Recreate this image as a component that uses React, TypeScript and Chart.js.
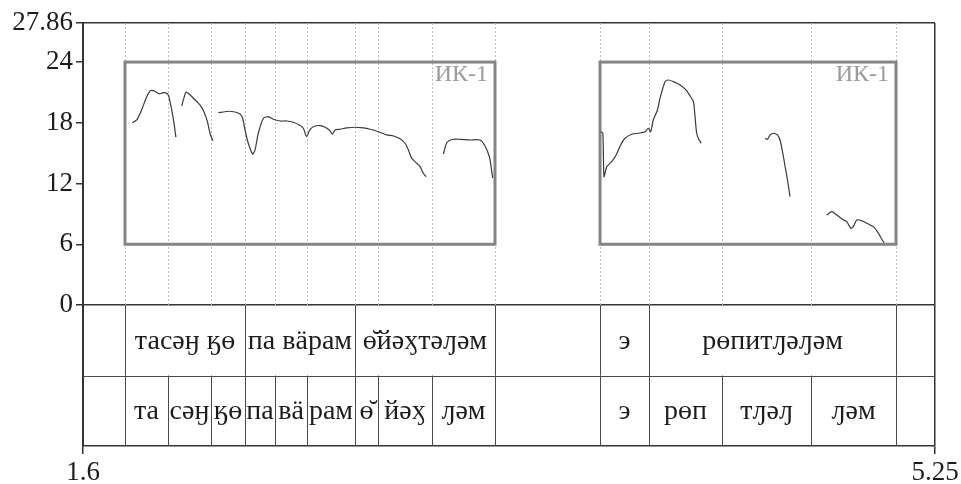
import { useEffect, useRef } from 'react';
import { Chart, registerables } from 'chart.js';

Chart.register(...registerables);

// Axis extents: the lower part of the value axis (below 0) holds the transcription table.
const X_MIN = 1.6;
const X_MAX = 5.25;
const Y_MIN = -13.93;
const Y_MAX = 27.86;
const ROW_SPLIT = -6.965;

const yTickValues = [0, 6, 12, 18, 24, 27.86];
const xTickValues = [1.6, 5.25];

// Pitch frames (ИК-1) drawn around each utterance
const frameStarts = [1.78, 3.815];
const frameEnds = [3.365, 5.083];
const frameLow = 6;
const frameHigh = 24;
const frameLabel = 'ИК-1';

// Word tier
const wordLabels = ['тасәӈ ӄө', 'па вӓрам', 'ө̆йәӽтәԓәм', 'э', 'рөпитԓәԓәм'];
const wordStarts = [1.78, 2.294, 2.765, 3.815, 4.025];
const wordEnds = [2.294, 2.765, 3.365, 4.025, 5.083];

// Syllable tier
const syllableLabels = ['та', 'сәӈ', 'ӄө', 'па', 'вӓ', 'рам', 'ө̆', 'йәӽ', 'ԓәм', 'э', 'рөп', 'тԓәԓ', 'ԓәм'];
const syllableStarts = [1.78, 1.964, 2.148, 2.294, 2.423, 2.56, 2.765, 2.864, 3.095, 3.815, 4.025, 4.338, 4.719];
const syllableEnds = [1.964, 2.148, 2.294, 2.423, 2.56, 2.765, 2.864, 3.095, 3.365, 4.025, 4.338, 4.719, 5.083];

// F0 contour pieces: [time, semitone value]
const contourTasang: [number, number][] = [
  [1.811, 18.01], [1.83, 18.28], [1.851, 19.27], [1.873, 20.58], [1.89, 21.18], [1.908, 21.12],
  [1.927, 20.85], [1.944, 20.98], [1.959, 20.92], [1.968, 20.58], [1.98, 19.27], [1.99, 17.95], [1.998, 16.57],
];
const contourKo: [number, number][] = [
  [2.023, 19.66], [2.03, 20.26], [2.041, 21.02], [2.051, 20.92], [2.073, 20.43], [2.101, 19.76],
  [2.118, 19.1], [2.133, 18.11], [2.144, 16.97], [2.156, 16.24],
];
const contourMiddle: [number, number][] = [
  [2.18, 19.0], [2.201, 19.07], [2.223, 19.14], [2.251, 19.07], [2.273, 18.87], [2.284, 18.45],
  [2.294, 17.29], [2.308, 15.98], [2.327, 14.92], [2.337, 15.32], [2.351, 16.97], [2.373, 18.45],
  [2.394, 18.61], [2.415, 18.35], [2.444, 18.18], [2.473, 18.18], [2.501, 18.05], [2.53, 17.74],
  [2.544, 17.46], [2.558, 16.65], [2.573, 17.36], [2.594, 17.69], [2.615, 17.72], [2.637, 17.56],
  [2.658, 17.22], [2.668, 16.87], [2.68, 17.29], [2.701, 17.36], [2.73, 17.49], [2.765, 17.56],
  [2.801, 17.49], [2.83, 17.36], [2.865, 17.12], [2.901, 16.8], [2.93, 16.7], [2.958, 16.43],
  [2.98, 15.98], [2.994, 15.32], [3.008, 14.5], [3.03, 14.0], [3.044, 13.67], [3.058, 13.01], [3.07, 12.68],
];
const contourLam: [number, number][] = [
  [3.144, 14.92], [3.158, 16.01], [3.18, 16.35], [3.215, 16.37], [3.258, 16.3], [3.301, 16.3],
  [3.322, 15.71], [3.341, 14.65], [3.349, 13.54], [3.355, 12.55],
];
const contourRop: [number, number][] = [
  [3.818, 17.12], [3.827, 17.0], [3.832, 12.68], [3.844, 13.67], [3.865, 14.16], [3.884, 14.82],
  [3.901, 15.71], [3.922, 16.47], [3.951, 16.87], [3.979, 16.97], [4.008, 17.12], [4.022, 17.46],
  [4.032, 17.12], [4.043, 18.28], [4.061, 19.27], [4.072, 20.43], [4.094, 22.07], [4.108, 22.23],
  [4.129, 22.07], [4.158, 21.74], [4.183, 21.25], [4.201, 20.65], [4.215, 20.09], [4.222, 18.61],
  [4.229, 16.97], [4.238, 16.37], [4.248, 15.98],
];
const contourTlel: [number, number][] = [
  [4.522, 16.47], [4.532, 16.37], [4.544, 16.8], [4.558, 16.97], [4.575, 16.8], [4.586, 16.3],
  [4.598, 14.99], [4.608, 13.67], [4.618, 12.35], [4.629, 10.7],
];
const contourLem: [number, number][] = [
  [4.786, 8.89], [4.808, 9.22], [4.829, 8.89], [4.858, 8.4], [4.872, 8.23], [4.889, 7.58],
  [4.9, 7.74], [4.915, 8.4], [4.936, 8.33], [4.958, 8.07], [4.986, 7.74], [5.008, 7.08],
  [5.022, 6.49], [5.032, 6.16],
];

const contours = [contourTasang, contourKo, contourMiddle, contourLam, contourRop, contourTlel, contourLem];

const SERIF = '"Liberation Serif", "DejaVu Serif", "Times New Roman", serif';

const tierPlugin = {
  id: 'tierLayer',
  beforeDatasetsDraw(chart: any) {
    const { ctx, scales } = chart;
    const xs = scales.x;
    const ys = scales.y;
    const yTop = ys.getPixelForValue(Y_MAX);
    const yZero = ys.getPixelForValue(0);
    const ySplit = ys.getPixelForValue(ROW_SPLIT);
    const yBottom = ys.getPixelForValue(Y_MIN);
    const left = chart.chartArea.left;
    const right = chart.chartArea.right;

    const boundaries = Array.from(new Set([...syllableStarts, ...syllableEnds]));

    ctx.save();
    // dotted guides above the table
    ctx.strokeStyle = '#bcbcbc';
    ctx.lineWidth = 1;
    ctx.setLineDash([2, 2]);
    boundaries.forEach((b) => {
      const px = Math.round(xs.getPixelForValue(b)) + 0.5;
      ctx.beginPath();
      ctx.moveTo(px, yTop);
      ctx.lineTo(px, yZero);
      ctx.stroke();
    });
    ctx.setLineDash([]);

    // frames
    ctx.strokeStyle = '#858585';
    ctx.lineWidth = 3;
    frameStarts.forEach((s, i) => {
      const x0 = xs.getPixelForValue(s);
      const x1 = xs.getPixelForValue(frameEnds[i]);
      const y0 = ys.getPixelForValue(frameHigh);
      const y1 = ys.getPixelForValue(frameLow);
      ctx.strokeRect(x0, y0, x1 - x0, y1 - y0);
      ctx.fillStyle = '#9c9c9c';
      ctx.font = `24px ${SERIF}`;
      ctx.textAlign = 'right';
      ctx.textBaseline = 'top';
      ctx.fillText(frameLabel, x1 - 7, y0 + 1);
    });

    // table rows
    ctx.strokeStyle = '#4a4a4a';
    ctx.lineWidth = 1;
    ctx.beginPath();
    ctx.moveTo(left, Math.round(ySplit) + 0.5);
    ctx.lineTo(right, Math.round(ySplit) + 0.5);
    ctx.stroke();

    const wordEdges = Array.from(new Set([...wordStarts, ...wordEnds]));
    wordEdges.forEach((b) => {
      const px = Math.round(xs.getPixelForValue(b)) + 0.5;
      ctx.beginPath();
      ctx.moveTo(px, yZero);
      ctx.lineTo(px, ySplit);
      ctx.stroke();
    });
    boundaries.forEach((b) => {
      const px = Math.round(xs.getPixelForValue(b)) + 0.5;
      ctx.beginPath();
      ctx.moveTo(px, ySplit);
      ctx.lineTo(px, yBottom);
      ctx.stroke();
    });

    ctx.fillStyle = '#1c1c1c';
    ctx.font = `28px ${SERIF}`;
    ctx.textAlign = 'center';
    ctx.textBaseline = 'middle';
    const wordMid = (yZero + ySplit) / 2;
    wordLabels.forEach((t, i) => {
      const cx = (xs.getPixelForValue(wordStarts[i]) + xs.getPixelForValue(wordEnds[i])) / 2;
      ctx.fillText(t, cx, wordMid + 1);
    });
    const sylMid = (ySplit + yBottom) / 2;
    syllableLabels.forEach((t, i) => {
      const cx = (xs.getPixelForValue(syllableStarts[i]) + xs.getPixelForValue(syllableEnds[i])) / 2;
      ctx.fillText(t, cx, sylMid + 1);
    });
    ctx.restore();
  },
};

export default function App() {
  const canvasRef = useRef<HTMLCanvasElement | null>(null);

  useEffect(() => {
    const canvas = canvasRef.current;
    if (!canvas) return;
    const chart = new Chart(canvas, {
      type: 'line',
      data: {
        datasets: contours.map((c) => ({
          data: c.map(([x, y]) => ({ x, y })),
          borderColor: '#3a3a3a',
          borderWidth: 1.2,
          pointRadius: 0,
          tension: 0.25,
          fill: false,
        })),
      },
      options: {
        responsive: false,
        animation: false,
        devicePixelRatio: 1,
        layout: { padding: { left: 0, top: 23, right: 26, bottom: 0 } },
        plugins: { legend: { display: false }, tooltip: { enabled: false } },
        scales: {
          x: {
            type: 'linear',
            min: X_MIN,
            max: X_MAX,
            afterBuildTicks: (scale: any) => {
              scale.ticks = xTickValues.map((v) => ({ value: v }));
            },
            afterFit: (scale: any) => {
              scale.height = 38;
              scale.paddingLeft = 0;
              scale.paddingRight = 0;
            },
            ticks: {
              autoSkip: false,
              maxRotation: 0,
              padding: 3,
              color: '#1c1c1c',
              font: { family: SERIF, size: 27 },
              callback: (v: any) => String(v),
            },
            grid: {
              color: '#333333',
              lineWidth: 1.5,
              tickLength: 8,
              tickColor: '#333333',
            },
            border: { display: true, color: '#333333', width: 1.5 },
          },
          y: {
            type: 'linear',
            min: Y_MIN,
            max: Y_MAX,
            afterBuildTicks: (scale: any) => {
              scale.ticks = yTickValues.map((v) => ({ value: v }));
            },
            afterFit: (scale: any) => {
              scale.width = 83;
              scale.paddingTop = 0;
              scale.paddingBottom = 0;
            },
            ticks: {
              autoSkip: false,
              padding: 3,
              color: '#1c1c1c',
              font: { family: SERIF, size: 27 },
              callback: (v: any) => String(v),
            },
            grid: {
              color: (c: any) => (c.tick && (c.tick.value === 0 || c.tick.value === Y_MAX) ? '#333333' : 'rgba(0,0,0,0)'),
              lineWidth: 1.5,
              tickLength: 7,
              tickColor: '#333333',
            },
            border: { display: true, color: '#333333', width: 2 },
          },
        },
      },
      plugins: [tierPlugin],
    });
    return () => chart.destroy();
  }, []);

  return (
    <div style={{ position: 'absolute', left: 0, top: 0, width: 961, height: 484, background: '#ffffff' }}>
      <canvas ref={canvasRef} width={961} height={484} />
    </div>
  );
}
